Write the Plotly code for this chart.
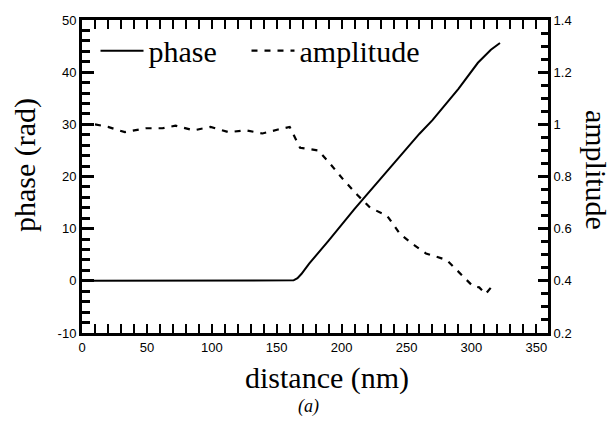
import plotly.graph_objects as go

# phase (solid, left axis)
phase_x = [0, 50, 100, 150, 160, 163, 166, 169, 175, 190, 210, 230, 250, 260, 270, 290, 305, 315, 322]
phase_y = [0, 0, 0, 0, 0, 0.1, 0.5, 1.3, 3.3, 7.7, 13.8, 19.6, 25.4, 28.2, 30.8, 36.8, 41.8, 44.3, 45.6]

# amplitude (dashed, right axis)
amp_x = [0, 10, 20, 33, 49, 62, 72, 86, 99, 113, 126, 139, 151, 160, 163, 168, 182, 191, 201, 212,
         222, 235, 245, 255, 265, 281, 293, 301, 306, 311, 316]
amp_y = [1.0, 1.0, 0.99, 0.97, 0.985, 0.985, 0.995, 0.977, 0.99, 0.97, 0.977, 0.965, 0.98, 0.99,
         0.96, 0.91, 0.9, 0.85, 0.79, 0.73, 0.68, 0.65, 0.58, 0.54, 0.505, 0.48, 0.42, 0.38, 0.375,
         0.35, 0.38]

x_ticks = [0, 50, 100, 150, 200, 250, 300, 350]
y_ticks = [-10, 0, 10, 20, 30, 40, 50]
y_ticktext = ["-10", "0", "10", "20", "30", "40", "50"]
y2_ticks = [0.2, 0.4, 0.6, 0.8, 1.0, 1.2, 1.4]
y2_ticktext = ["0.2", "0.4", "0.6", "0.8", "1", "1.2", "1.4"]

serif = "Liberation Serif"
sans = "Liberation Sans"

fig = go.Figure()
fig.add_trace(go.Scatter(x=phase_x, y=phase_y, mode="lines", name="phase", legend="legend",
                         line=dict(color="black", width=2)))
fig.add_trace(go.Scatter(x=amp_x, y=amp_y, mode="lines", name="amplitude", yaxis="y2", legend="legend2",
                         line=dict(color="black", width=2.2, dash="6px,7px")))

leg_common = dict(orientation="h", y=0.985, xanchor="left", yanchor="top",
                  font=dict(family=serif, size=30, color="black"),
                  itemwidth=43, bgcolor="rgba(0,0,0,0)")

fig.update_layout(
    width=613, height=421,
    margin=dict(l=82, r=65, t=20, b=88),
    paper_bgcolor="white", plot_bgcolor="white",
    showlegend=True,
    legend=dict(x=0.029, **leg_common),
    legend2=dict(x=0.353, **leg_common),
    xaxis=dict(range=[0, 359], tickmode="array", tickvals=x_ticks,
               ticks="inside", ticklen=9, tickwidth=2, tickcolor="black",
               showline=True, linewidth=3, linecolor="black", mirror="allticks",
               showgrid=False, zeroline=False,
               tickfont=dict(family=sans, size=13, color="black"),
               minor=dict(dtick=10, tick0=0, ticks="inside", ticklen=6, tickwidth=2, tickcolor="black", showgrid=False)),
    yaxis=dict(range=[-10, 50], tickmode="array", tickvals=y_ticks, ticktext=y_ticktext,
               ticks="inside", ticklen=12, tickwidth=3, tickcolor="black",
               showline=True, linewidth=3, linecolor="black", mirror=False,
               showgrid=False, zeroline=False,
               tickfont=dict(family=sans, size=13, color="black"),
               minor=dict(dtick=2, tick0=0, ticks="inside", ticklen=8, tickwidth=3, tickcolor="black", showgrid=False)),
    yaxis2=dict(range=[0.2, 1.4], tickmode="array", tickvals=y2_ticks, ticktext=y2_ticktext,
                overlaying="y", side="right", anchor="x",
                ticks="inside", ticklen=10, tickwidth=3, tickcolor="black",
                showline=True, linewidth=3, linecolor="black",
                showgrid=False, zeroline=False,
                tickfont=dict(family=sans, size=13, color="black"),
                minor=dict(dtick=0.05, tick0=0.2, ticks="inside", ticklen=7, tickwidth=3, tickcolor="black", showgrid=False)),
    annotations=[
        dict(text="distance (nm)", xref="paper", yref="paper", x=0.526, y=-0.144,
             xanchor="center", yanchor="middle", showarrow=False,
             font=dict(family=serif, size=30, color="black")),
        dict(text="phase (rad)", xref="paper", yref="paper", x=-0.122, y=0.537,
             xanchor="center", yanchor="middle", showarrow=False, textangle=-90,
             font=dict(family=serif, size=30, color="black")),
        dict(text="amplitude", xref="paper", yref="paper", x=1.103, y=0.521,
             xanchor="center", yanchor="middle", showarrow=False, textangle=90,
             font=dict(family=serif, size=30, color="black")),
        dict(text="<i>(a)</i>", xref="paper", yref="paper", x=0.485, y=-0.236,
             xanchor="center", yanchor="middle", showarrow=False,
             font=dict(family=serif, size=18, color="black")),
    ],
)

fig.write_html("out.html", config={"displayModeBar": False},
               post_script="document.body.style.margin='0';")
